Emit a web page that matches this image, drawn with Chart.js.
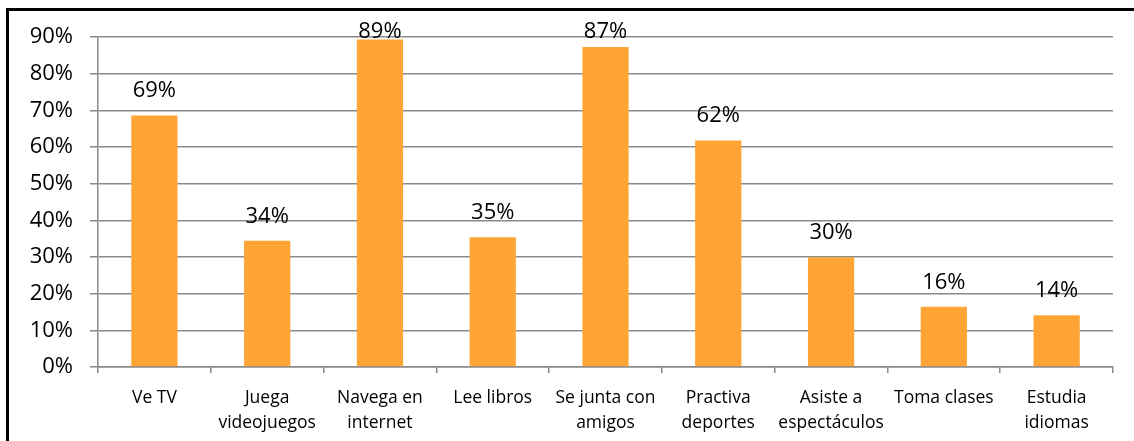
<!DOCTYPE html>
<html>
<head>
<meta charset="utf-8">
<script src="https://cdn.jsdelivr.net/npm/chart.js@4.4.1/dist/chart.umd.min.js"></script>
<style>
  html, body { margin: 0; padding: 0; background: #fff; }
  #wrap { position: relative; width: 1134px; height: 441px; overflow: hidden; }
  #frame { position: absolute; left: 6px; top: 8px; right: -10px; bottom: -10px;
           border-left: 3px solid #000; border-top: 3px solid #000; }
  canvas { position: absolute; left: 0; top: 0; }
</style>
</head>
<body>
<div id="wrap">
  <div id="frame"></div>
  <canvas id="chart" width="1134" height="441"></canvas>
</div>
<script>
const categories = [
  "Ve TV",
  ["Juega", "videojuegos"],
  ["Navega en", "internet"],
  "Lee libros",
  ["Se junta con", "amigos"],
  ["Practiva", "deportes"],
  ["Asiste a", "espectáculos"],
  "Toma clases",
  ["Estudia", "idiomas"]
];
const values = [68.6, 34.4, 89.3, 35.4, 87.3, 61.8, 29.9, 16.4, 14.1];
const valueLabels = ["69%", "34%", "89%", "35%", "87%", "62%", "30%", "16%", "14%"];

const fontFamily = "'Open Sans', 'DejaVu Sans', sans-serif";

const valueLabelPlugin = {
  id: "valueLabels",
  afterDatasetsDraw(chart) {
    const ctx = chart.ctx;
    const meta = chart.getDatasetMeta(0);
    ctx.save();
    ctx.font = "22px " + fontFamily;
    ctx.fillStyle = "#000";
    ctx.textAlign = "center";
    ctx.textBaseline = "alphabetic";
    meta.data.forEach((bar, i) => {
      const y = Math.max(bar.y - 18, chart.chartArea.top + 1);
      ctx.fillText(valueLabels[i], bar.x, y);
    });
    ctx.restore();
  }
};

new Chart(document.getElementById("chart"), {
  type: "bar",
  data: {
    labels: categories,
    datasets: [{
      data: values,
      backgroundColor: "#FFA535",
      borderWidth: 0,
      categoryPercentage: 1,
      barPercentage: 0.41
    }]
  },
  options: {
    responsive: false,
    animation: false,
    layout: { padding: { left: 10, top: 37, right: 21, bottom: 0 } },
    plugins: { legend: { display: false }, tooltip: { enabled: false } },
    scales: {
      x: {
        grid: { display: true, drawOnChartArea: false, color: "#8a8a8a", lineWidth: 1.5, tickLength: 6, offset: true },
        border: { color: "#8a8a8a", width: 1.5 },
        ticks: { color: "#000", font: { family: fontFamily, size: 17.5, lineHeight: 1.45 }, padding: 12, maxRotation: 0, autoSkip: false },
        afterFit(scale) { scale.height = 74; }
      },
      y: {
        min: 0,
        max: 90,
        grid: { color: "#8a8a8a", lineWidth: 1.5, tickLength: 8 },
        border: { color: "#8a8a8a", width: 1.5 },
        ticks: { stepSize: 10, color: "#000", font: { family: fontFamily, size: 22 }, padding: 17,
                 callback: v => v + "%" },
        afterFit(scale) { scale.width = 88; }
      }
    }
  },
  plugins: [valueLabelPlugin]
});
</script>
</body>
</html>
